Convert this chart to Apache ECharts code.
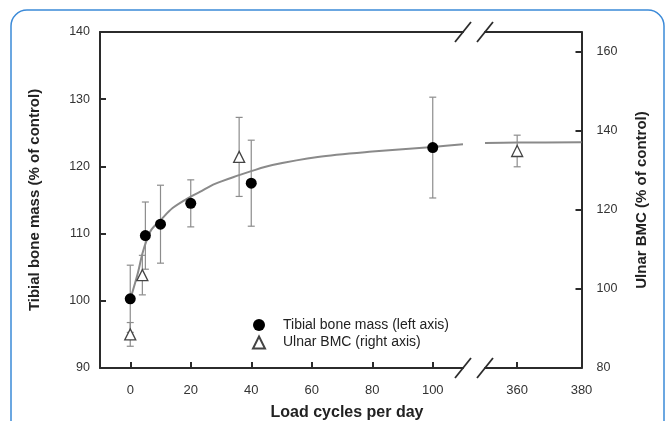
<!DOCTYPE html>
<html>
<head>
<meta charset="utf-8">
<script src="https://cdn.jsdelivr.net/npm/echarts@6/dist/echarts.min.js"></script>
<style>
html,body{margin:0;padding:0;background:#fff;}
#c{width:667px;height:421px;}
</style>
</head>
<body>
<div id="c"></div>
<script>
// ---- data ----
const tibX = [0, 5, 10, 20, 40, 100];
const tibY = [100.3, 109.7, 111.4, 114.5, 117.5, 122.8];
const tibErr = [5, 5, 5.8, 3.5, 6.4, 7.5];

const ulnX = [0, 4, 36, 360];
const ulnY = [88.5, 103.5, 133.4, 134.9];
const ulnErr = [3, 5, 10, 4];

const curveX = [0, 2.5, 4, 5.5, 7, 10, 14, 20, 23, 28, 36, 40, 47, 62, 80, 100, 110];
const curveY = [100.2, 104.1, 107, 109.1, 110.6, 112.0, 113.8, 115.5, 116.2, 117.4, 118.7, 119.3, 120.2, 121.4, 122.2, 122.9, 123.3];
const curve2X = [350, 360, 380];
const curve2Y = [123.5, 123.55, 123.6];

const xTicksLeft = [0, 20, 40, 60, 80, 100];
const xTicksRight = [360, 380];
const yTicksLeft = [90, 100, 110, 120, 130, 140];
const yTicksRight = [80, 100, 120, 140, 160];

const xName = 'Load cycles per day';
const yLeftName = 'Tibial bone mass (% of control)';
const yRightName = 'Ulnar BMC (% of control)';
const tibName = 'Tibial bone mass (left axis)';
const ulnName = 'Ulnar BMC (right axis)';

// ---- layout ----
const FONT = '"Liberation Sans", Arial, sans-serif';
const G1 = {left: 100, top: 32, width: 363, height: 336};
const G2 = {left: 485, top: 32, width: 96.5, height: 336};
const AX = '#2b2b2b';
const ERR = '#8c8c8c';

const chart = echarts.init(document.getElementById('c'), null, {renderer: 'canvas'});

const BREAK = 110;
function zipPts(xs, ys, keep) {
  const out = [];
  xs.forEach((x, i) => { if (keep(x)) out.push([x, ys[i]]); });
  return out;
}
function errPts(xs, ys, es, keep) {
  const out = [];
  xs.forEach((x, i) => { if (keep(x)) out.push([x, ys[i] - es[i], ys[i] + es[i]]); });
  return out;
}
const inL = x => x <= BREAK;
const inR = x => x > BREAK;

function errRender(params, api) {
  const x = api.value(0), lo = api.value(1), hi = api.value(2);
  const p1 = api.coord([x, hi]), p2 = api.coord([x, lo]);
  const w = 3.5;
  const style = {stroke: ERR, lineWidth: 1.2, fill: null};
  return {type: 'group', children: [
    {type: 'line', shape: {x1: p1[0], y1: p1[1], x2: p2[0], y2: p2[1]}, style},
    {type: 'line', shape: {x1: p1[0] - w, y1: p1[1], x2: p1[0] + w, y2: p1[1]}, style},
    {type: 'line', shape: {x1: p2[0] - w, y1: p2[1], x2: p2[0] + w, y2: p2[1]}, style}
  ]};
}

const axisLine = {show: true, onZero: false, lineStyle: {color: AX, width: 2}};
const tick = {show: true, inside: true, length: 6, lineStyle: {color: AX, width: 2}};

function slash(cx, cy) {
  return {type: 'line', shape: {x1: cx - 8, y1: cy + 10, x2: cx + 8, y2: cy - 10},
          style: {stroke: AX, lineWidth: 1.8}, z: 100};
}
const bx1 = G1.left + G1.width, bx2 = G2.left;
const yTop = G1.top, yBot = G1.top + G1.height;

const option = {
  backgroundColor: '#ffffff',
  animation: false,
  textStyle: {fontFamily: FONT},
  grid: [
    {left: G1.left, top: G1.top, width: G1.width, height: G1.height},
    {left: G2.left, top: G2.top, width: G2.width, height: G2.height}
  ],
  xAxis: [
    {gridIndex: 0, type: 'value', min: -10, max: BREAK, position: 'bottom',
     axisLine, axisTick: Object.assign({customValues: xTicksLeft}, tick),
     axisLabel: {customValues: xTicksLeft, color: '#333', fontSize: 13, margin: 16, fontFamily: FONT},
     splitLine: {show: false}},
    {gridIndex: 0, type: 'value', min: -10, max: BREAK, position: 'top',
     axisLine, axisTick: {show: false}, axisLabel: {show: false}, splitLine: {show: false}},
    {gridIndex: 1, type: 'value', min: 350, max: 380, position: 'bottom',
     axisLine, axisTick: Object.assign({customValues: xTicksRight}, tick),
     axisLabel: {customValues: xTicksRight, color: '#333', fontSize: 13, margin: 16, fontFamily: FONT},
     splitLine: {show: false}},
    {gridIndex: 1, type: 'value', min: 350, max: 380, position: 'top',
     axisLine, axisTick: {show: false}, axisLabel: {show: false}, splitLine: {show: false}}
  ],
  yAxis: [
    {gridIndex: 0, type: 'value', min: 90, max: 140, position: 'left',
     axisLine, axisTick: Object.assign({customValues: yTicksLeft}, tick),
     axisLabel: {customValues: yTicksLeft, color: '#333', fontSize: 12.5, margin: 10, fontFamily: FONT},
     splitLine: {show: false},
     name: yLeftName, nameLocation: 'middle', nameRotate: 90, nameGap: 58,
     nameTextStyle: {fontSize: 15, fontWeight: 'bold', color: '#222', fontFamily: FONT}},
    {gridIndex: 0, type: 'value', min: 80, max: 165, show: false},
    {gridIndex: 1, type: 'value', min: 80, max: 165, position: 'right',
     axisLine, axisTick: Object.assign({customValues: yTicksRight}, tick),
     axisLabel: {customValues: yTicksRight, color: '#333', fontSize: 12.5, margin: 15, fontFamily: FONT},
     splitLine: {show: false},
     name: yRightName, nameLocation: 'middle', nameRotate: 90, nameGap: 53,
     nameTextStyle: {fontSize: 15, fontWeight: 'bold', color: '#222', fontFamily: FONT}},
    {gridIndex: 1, type: 'value', min: 90, max: 140, show: false}
  ],
  legend: {
    orient: 'vertical', left: 247, top: 313, itemWidth: 12, itemHeight: 12, itemGap: 3.5,
    data: [tibName, ulnName],
    textStyle: {fontSize: 14, color: '#222', fontFamily: FONT, padding: [0, 0, 0, 13]}
  },
  graphic: [
    {type: 'rect', shape: {x: 11, y: 10, width: 653, height: 440, r: 16},
     style: {fill: null, stroke: '#3b8ad8', lineWidth: 1.5}, z: 200, silent: true},
    {type: 'rect', shape: {x: bx1 + 1, y: yTop - 2, width: bx2 - bx1 - 2, height: 4},
     style: {fill: '#fff'}, z: 99},
    {type: 'rect', shape: {x: bx1 + 1, y: yBot - 2, width: bx2 - bx1 - 2, height: 4},
     style: {fill: '#fff'}, z: 99},
    slash(bx1, yTop), slash(bx2, yTop), slash(bx1, yBot), slash(bx2, yBot),
    {type: 'text', x: 347, y: 413, z: 100,
     style: {text: xName, fill: '#222', font: 'bold 16px ' + FONT, textAlign: 'center', textVerticalAlign: 'middle'}}
  ],
  series: [
    {type: 'custom', name: 'tibErrL', xAxisIndex: 0, yAxisIndex: 0, renderItem: errRender,
     encode: {x: 0, y: [1, 2]}, data: errPts(tibX, tibY, tibErr, inL), z: 1, clip: false},
    {type: 'custom', name: 'ulnErrL', xAxisIndex: 0, yAxisIndex: 1, renderItem: errRender,
     encode: {x: 0, y: [1, 2]}, data: errPts(ulnX, ulnY, ulnErr, inL), z: 1, clip: false},
    {type: 'custom', name: 'ulnErrR', xAxisIndex: 2, yAxisIndex: 2, renderItem: errRender,
     encode: {x: 0, y: [1, 2]}, data: errPts(ulnX, ulnY, ulnErr, inR), z: 1, clip: false},
    {type: 'line', name: 'fitL', xAxisIndex: 0, yAxisIndex: 0, smooth: 0.3, showSymbol: false,
     lineStyle: {color: '#8a8a8a', width: 2}, data: zipPts(curveX, curveY, () => true), z: 2},
    {type: 'line', name: 'fitR', xAxisIndex: 2, yAxisIndex: 3, smooth: 0.3, showSymbol: false,
     lineStyle: {color: '#8a8a8a', width: 2}, data: zipPts(curve2X, curve2Y, () => true), z: 2},
    {type: 'scatter', name: tibName, xAxisIndex: 0, yAxisIndex: 0, symbol: 'circle', symbolSize: 11,
     itemStyle: {color: '#000', opacity: 1}, data: zipPts(tibX, tibY, inL), z: 5},
    {type: 'scatter', name: ulnName, xAxisIndex: 0, yAxisIndex: 1, symbol: 'triangle', symbolSize: 11,
     itemStyle: {color: '#fff', borderColor: '#444', borderWidth: 1.3, opacity: 1}, data: zipPts(ulnX, ulnY, inL), z: 5},
    {type: 'scatter', name: ulnName, xAxisIndex: 2, yAxisIndex: 2, symbol: 'triangle', symbolSize: 11,
     itemStyle: {color: '#fff', borderColor: '#444', borderWidth: 1.3, opacity: 1}, data: zipPts(ulnX, ulnY, inR), z: 5}
  ]
};
chart.setOption(option);
</script>
</body>
</html>
